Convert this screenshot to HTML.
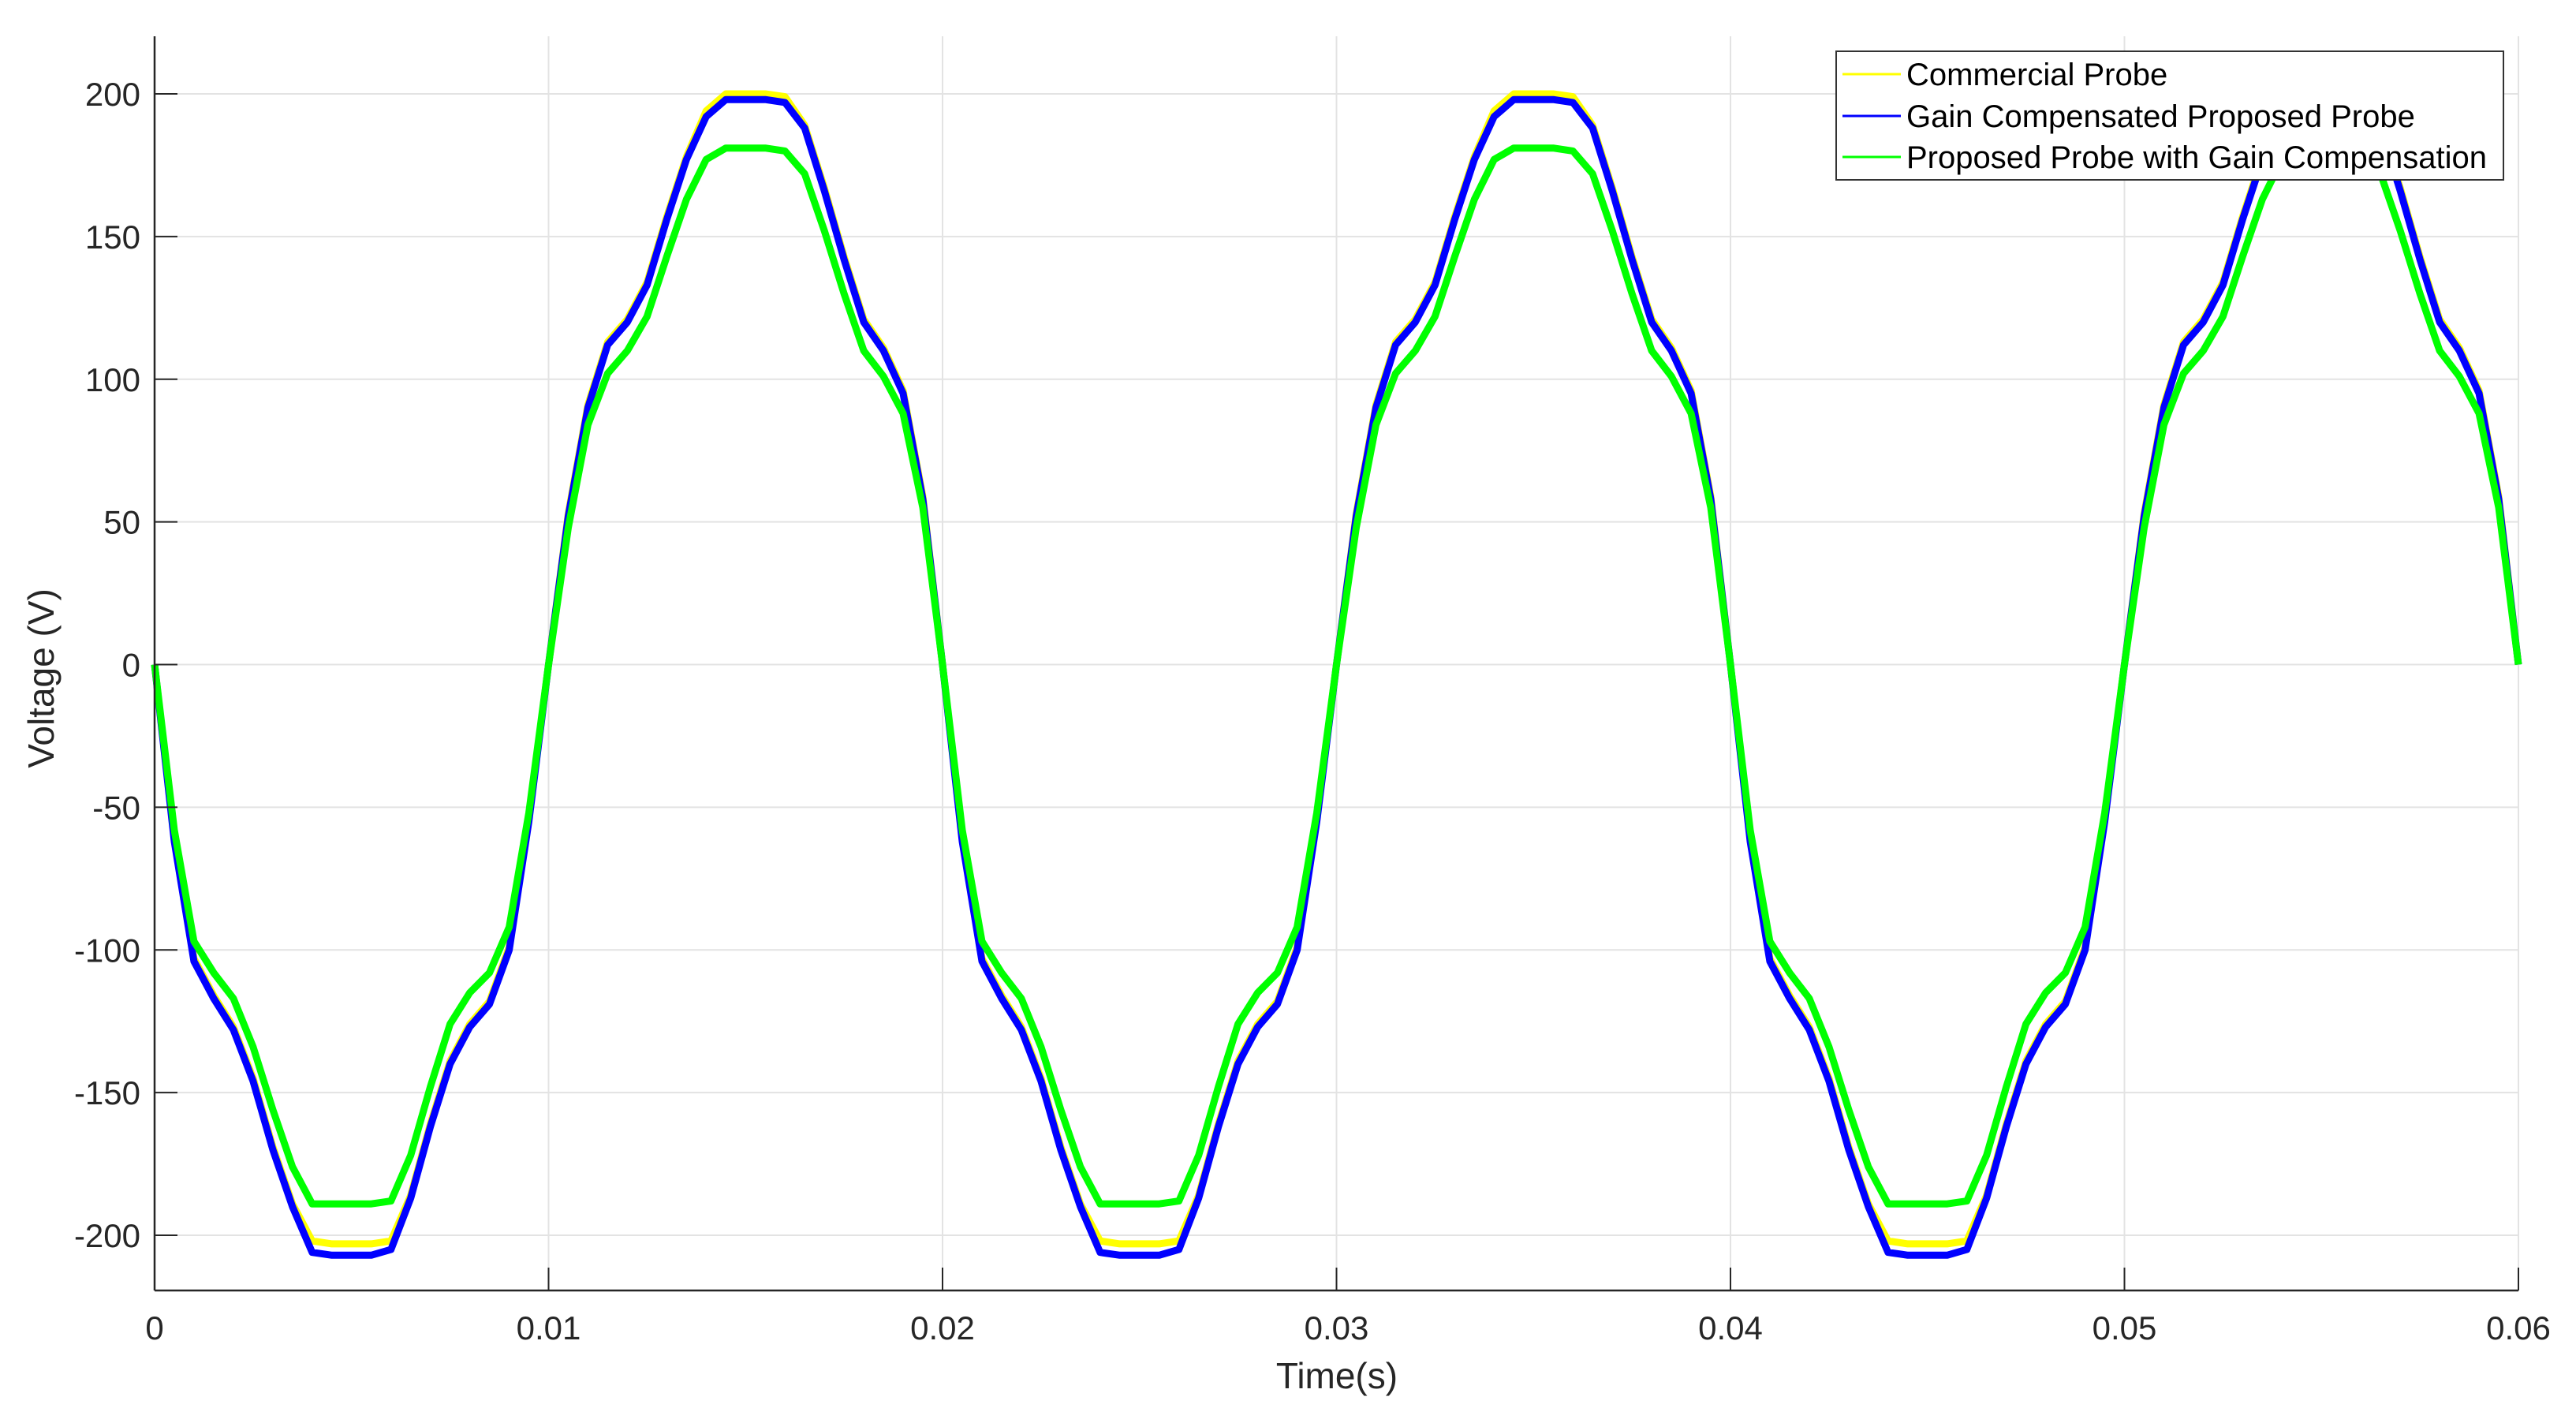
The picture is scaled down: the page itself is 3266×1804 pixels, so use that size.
<!DOCTYPE html>
<html><head><meta charset="utf-8"><style>
html,body{margin:0;padding:0;background:#fff;}
svg{display:block;font-family:"Liberation Sans",Arial,sans-serif;}
</style></head><body>
<svg id="chart" width="3266" height="1804" viewBox="0 0 3266 1804" xmlns="http://www.w3.org/2000/svg">
<rect width="3266" height="1804" fill="#fff"/>
<g id="grid"></g>
<g id="series"></g>
<g id="axes"></g>
<text x="1695" y="1760" font-size="46" text-anchor="middle" fill="#262626">Time(s)</text>
<text transform="translate(68,860) rotate(-90)" font-size="46" text-anchor="middle" fill="#262626">Voltage (V)</text>
<g>
<rect x="2328" y="65" width="846" height="163" fill="#fff" stroke="#333" stroke-width="2"/>
<line x1="2336" y1="94" x2="2410" y2="94" stroke="#ffff00" stroke-width="3"/>
<text x="2417" y="108" font-size="40" fill="#000">Commercial Probe</text>
<line x1="2336" y1="147" x2="2410" y2="147" stroke="#0000ff" stroke-width="3"/>
<text x="2417" y="161" font-size="40" fill="#000">Gain Compensated Proposed Probe</text>
<line x1="2336" y1="199" x2="2410" y2="199" stroke="#00ff00" stroke-width="3"/>
<text x="2417" y="213" font-size="40" fill="#000">Proposed Probe with Gain Compensation</text>
</g>
</svg>
<script>
const xTicks = [0, 0.01, 0.02, 0.03, 0.04, 0.05, 0.06];
const xTickLabels = ["0", "0.01", "0.02", "0.03", "0.04", "0.05", "0.06"];
const yTicks = [-200, -150, -100, -50, 0, 50, 100, 150, 200];
const yTickLabels = ["-200", "-150", "-100", "-50", "0", "50", "100", "150", "200"];
const timeStep = 0.0005;
const blueValues = [
0,-62,-104,-117,-128,-146,-170,-190,-206,-207,-207,-207,-205,-187,-162,-140,-127,-119,-100,-55,
0,52,90,112,120,133,156,177,192,198,198,198,197,188,166,142,120,110,95,58,
0,-62,-104,-117,-128,-146,-170,-190,-206,-207,-207,-207,-205,-187,-162,-140,-127,-119,-100,-55,
0,52,90,112,120,133,156,177,192,198,198,198,197,188,166,142,120,110,95,58,
0,-62,-104,-117,-128,-146,-170,-190,-206,-207,-207,-207,-205,-187,-162,-140,-127,-119,-100,-55,
0,52,90,112,120,133,156,177,192,198,198,198,197,188,166,142,120,110,95,58,0];
const yellowValues = [
0,-61,-103,-116,-127,-145,-169,-189,-202,-203,-203,-203,-202,-186,-161,-139,-126,-118,-99,-54,
0,53,91,113,121,134,157,178,194,200,200,200,199,189,167,143,121,111,96,59,
0,-61,-103,-116,-127,-145,-169,-189,-202,-203,-203,-203,-202,-186,-161,-139,-126,-118,-99,-54,
0,53,91,113,121,134,157,178,194,200,200,200,199,189,167,143,121,111,96,59,
0,-61,-103,-116,-127,-145,-169,-189,-202,-203,-203,-203,-202,-186,-161,-139,-126,-118,-99,-54,
0,53,91,113,121,134,157,178,194,200,200,200,199,189,167,143,121,111,96,59,0];
const greenValues = [
0,-58,-97,-108,-117,-134,-156,-176,-189,-189,-189,-189,-188,-172,-148,-126,-115,-108,-92,-52,
0,48,84,102,110,122,143,163,177,181,181,181,180,172,152,130,110,101,88,55,
0,-58,-97,-108,-117,-134,-156,-176,-189,-189,-189,-189,-188,-172,-148,-126,-115,-108,-92,-52,
0,48,84,102,110,122,143,163,177,181,181,181,180,172,152,130,110,101,88,55,
0,-58,-97,-108,-117,-134,-156,-176,-189,-189,-189,-189,-188,-172,-148,-126,-115,-108,-92,-52,
0,48,84,102,110,122,143,163,177,181,181,181,180,172,152,130,110,101,88,55,0];

const NS = "http://www.w3.org/2000/svg";
const L = 196, R = 3193, T = 46, B = 1636;
const xMin = 0, xMax = 0.06;
const yMinV = -200, yMaxV = 200, yPx200 = 119, yPxm200 = 1566;
function xs(t){ return L + (t - xMin) / (xMax - xMin) * (R - L); }
function ys(v){ return yPxm200 + (v - yMinV) / (yMaxV - yMinV) * (yPx200 - yPxm200); }
function mk(tag, attrs, parent){
  const e = document.createElementNS(NS, tag);
  for (const k in attrs) e.setAttribute(k, attrs[k]);
  parent.appendChild(e);
  return e;
}
const grid = document.getElementById('grid');
const axes = document.getElementById('axes');
const series = document.getElementById('series');

xTicks.forEach((t, i) => {
  const x = xs(t);
  if (i > 0) {
    const g = mk('line', {x1:x, y1:T, x2:x, y2:B, stroke:'#e3e3e3', 'stroke-width':2}, grid);
    
    
  }
  const tk = mk('line', {x1:x, y1:B, x2:x, y2:B-29, stroke:'#262626', 'stroke-width':2}, axes);
  
  
  const lb = mk('text', {x:x, y:1698, 'font-size':42, 'text-anchor':'middle', fill:'#262626'}, axes);
  lb.textContent = xTickLabels[i];
  
  
});
yTicks.forEach((v, i) => {
  const y = ys(v);
  const g = mk('line', {x1:L, y1:y, x2:R, y2:y, stroke:'#e3e3e3', 'stroke-width':2}, grid);
  
  
  const tk = mk('line', {x1:L, y1:y, x2:L+29, y2:y, stroke:'#262626', 'stroke-width':2}, axes);
  
  
  const lb = mk('text', {x:178, y:y+15, 'font-size':42, 'text-anchor':'end', fill:'#262626'}, axes);
  lb.textContent = yTickLabels[i];
  
  
});
const ax1 = mk('line', {x1:L, y1:T, x2:L, y2:B, stroke:'#262626', 'stroke-width':2.5}, axes);


const ax2 = mk('line', {x1:L, y1:B, x2:R, y2:B, stroke:'#262626', 'stroke-width':2.5}, axes);



function drawSeries(vals, color, name){
  let d = '';
  vals.forEach((v, i) => {
    d += (i ? 'L' : 'M') + xs(i * timeStep).toFixed(1) + ' ' + ys(v).toFixed(1);
  });
  const p = mk('path', {d:d, fill:'none', stroke:color, 'stroke-width':9, 'stroke-linejoin':'round'}, series);
  
  
}
drawSeries(yellowValues, '#ffff00', 'commercial-probe-line');
drawSeries(blueValues, '#0000ff', 'gain-compensated-proposed-probe-line');
drawSeries(greenValues, '#00ff00', 'proposed-probe-with-gain-compensation-line');
</script>
</body></html>
